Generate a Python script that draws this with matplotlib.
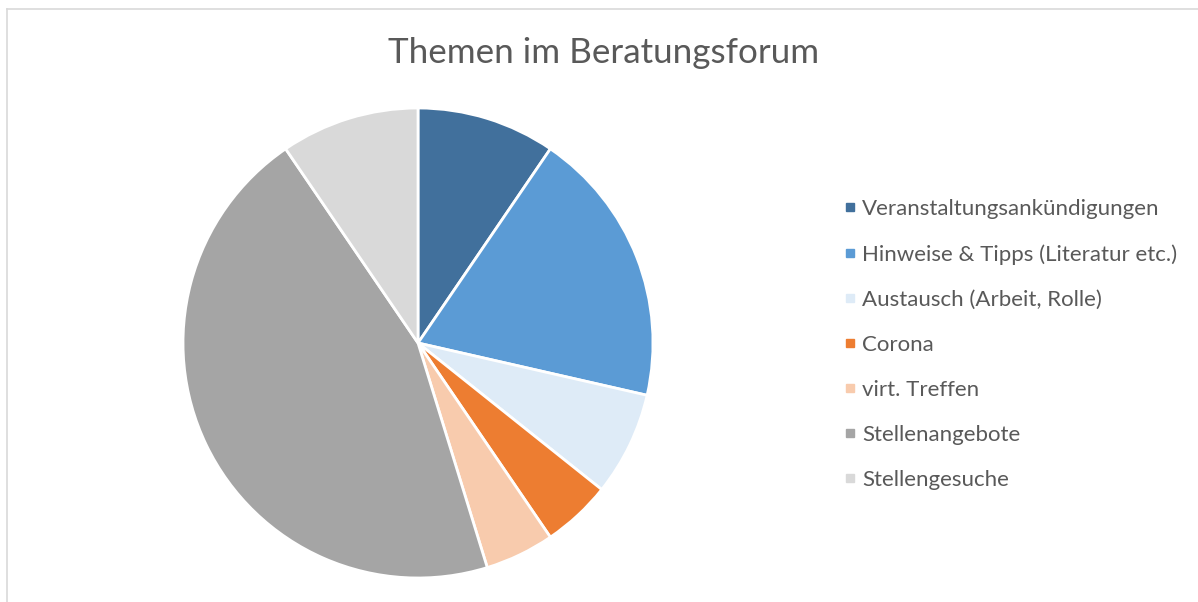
import matplotlib
matplotlib.use("Agg")
import matplotlib.pyplot as plt
from matplotlib.lines import Line2D

categories = ["Veranstaltungsankündigungen", "Hinweise & Tipps (Literatur etc.)",
              "Austausch (Arbeit, Rolle)", "Corona", "virt. Treffen",
              "Stellenangebote", "Stellengesuche"]
values = [4, 8, 3, 2, 2, 19, 4]
colors = ["#41709C", "#5B9BD5", "#DEEBF7", "#ED7D31", "#F8CBAD", "#A5A5A5", "#D9D9D9"]
title = "Themen im Beratungsforum"

W, H = 1198, 602
fig = plt.figure(figsize=(W / 100, H / 100), dpi=100)
plt.rcParams['font.family'] = ['Lato', 'DejaVu Sans']
text_color = "#595959"

cx, cy, r = 418, 343, 235
ax = fig.add_axes([(cx - r) / W, (H - cy - r) / H, 2 * r / W, 2 * r / H])
wedges, _ = ax.pie(values, colors=colors, startangle=90, counterclock=False,
                   wedgeprops=dict(edgecolor="white", linewidth=2.0))
ax.set_xlim(-1, 1)
ax.set_ylim(-1, 1)
ax.set_aspect("equal")
ax.axis("off")

fig.text(604 / W, 1 - 53 / H, title, ha="center", va="center",
         fontsize=25.2, color=text_color)

handles = [Line2D([0], [0], marker="s", linestyle="none", markersize=6,
                  markerfacecolor=c, markeredgecolor=c) for c in colors]
leg = fig.legend(handles, categories, loc="upper left",
                 bbox_to_anchor=(843.5 / W, 1 - 199 / H), frameon=False,
                 fontsize=16, labelspacing=1.13, handlelength=0.6,
                 handletextpad=0.25, borderpad=0, borderaxespad=0)
for t in leg.get_texts():
    t.set_color(text_color)

# partial chart border (top and left visible)
fig.add_artist(Line2D([6.5 / W, 6.5 / W], [0, 1 - 8.5 / H], transform=fig.transFigure,
                      color="#D9D9D9", linewidth=1.2))
fig.add_artist(Line2D([6.5 / W, 1], [1 - 8.5 / H, 1 - 8.5 / H], transform=fig.transFigure,
                      color="#D9D9D9", linewidth=1.2))

fig.savefig("out.png", dpi=100, facecolor="white")
